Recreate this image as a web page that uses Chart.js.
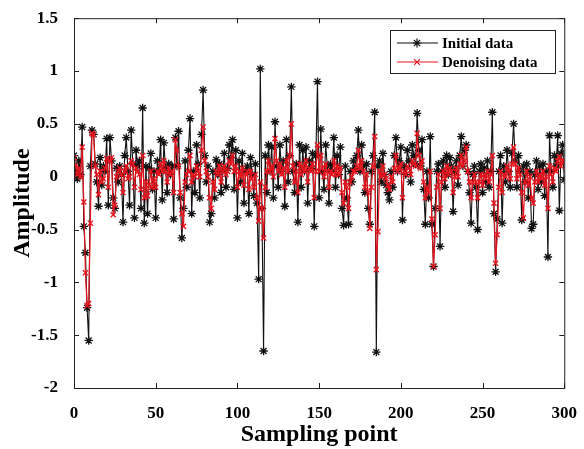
<!DOCTYPE html>
<html>
<head>
<meta charset="utf-8">
<script src="https://cdn.jsdelivr.net/npm/chart.js@4"></script>
<style>
  html, body { margin: 0; padding: 0; background: #fff; }
  #wrap { width: 584px; height: 449px; }
</style>
</head>
<body>
<div id="wrap"><canvas id="sigchart" width="584" height="449"></canvas></div>
<script>
const initialData = [
  0.20, 0.05, -0.02, 0.15, 0.02, 0.47, -0.47, -0.72, -1.24, -1.55,
  0.10, 0.44, 0.40, 0.12, -0.05, -0.28, 0.18, -0.08, 0.10, 0.05,
  0.36, -0.27, 0.37, 0.15, -0.20, -0.30, 0.08, -0.05, 0.10, 0.02,
  -0.43, 0.20, 0.37, 0.05, -0.27, 0.44, 0.12, -0.39, 0.25, 0.10,
  0.15, -0.30, 0.65, -0.44, 0.10, -0.35, 0.08, 0.22, -0.12, 0.05,
  -0.39, 0.15, 0.05, 0.35, -0.22, 0.32, 0.08, -0.15, 0.12, 0.02,
  0.10, -0.40, 0.37, 0.10, 0.43, -0.20, -0.58, -0.30, 0.15, -0.10,
  0.25, 0.55, -0.35, 0.05, -0.15, 0.30, 0.12, -0.20, 0.40, 0.82,
  0.20, -0.05, 0.10, -0.43, -0.35, 0.05, -0.20, 0.16, 0.02, 0.12,
  -0.15, 0.05, 0.22, -0.10, 0.08, 0.30, 0.18, 0.35, -0.12, 0.25,
  -0.39, 0.15, -0.05, 0.22, -0.25, 0.05, 0.10, -0.35, 0.18, 0.02,
  -0.18, 0.12, -0.25, -0.97, 1.02, -0.30, -1.65, 0.20, -0.15, 0.30,
  0.05, 0.28, -0.20, 0.52, 0.10, -0.10, 0.30, 0.05, 0.15, -0.28,
  0.35, -0.05, 0.20, 0.85, 0.05, -0.15, 0.12, -0.43, 0.30, -0.10,
  0.25, 0.05, 0.28, -0.25, 0.15, 0.08, 0.22, -0.47, 0.20, 0.90,
  -0.20, 0.45, 0.05, -0.12, 0.30, 0.10, -0.25, 0.12, 0.05, 0.37,
  -0.10, 0.20, 0.02, 0.28, -0.30, -0.46, 0.10, -0.20, -0.45, 0.05,
  -0.05, 0.15, 0.08, 0.20, 0.44, 0.05, 0.30, 0.10, -0.15, 0.12,
  -0.30, -0.45, 0.05, 0.20, 0.61, -1.66, 0.10, 0.15, -0.05, 0.22,
  0.02, -0.08, -0.15, -0.22, 0.05, -0.10, 0.20, 0.37, 0.05, 0.15,
  0.28, -0.41, 0.10, 0.02, 0.25, 0.15, -0.05, 0.30, 0.20, 0.12,
  0.60, 0.25, 0.10, 0.35, -0.12, -0.45, 0.05, -0.20, 0.38, -0.45,
  -0.85, -0.30, 0.05, 0.12, -0.66, 0.05, 0.15, -0.10, 0.20, 0.02,
  0.18, 0.10, -0.33, 0.05, 0.15, -0.08, 0.20, 0.38, 0.10, 0.25,
  0.30, 0.05, -0.15, -0.44, 0.02, 0.10, -0.10, -0.50, 0.05, 0.12,
  -0.15, 0.08, -0.05, 0.15, -0.10, 0.05, 0.61, -0.35, -0.90, -0.40,
  0.05, 0.20, -0.44, 0.10, -0.05, 0.25, 0.05, -0.10, 0.22, 0.50,
  0.15, -0.10, 0.20, 0.05, -0.41, 0.10, -0.05, 0.12, -0.20, 0.05,
  -0.49, -0.45, 0.02, 0.15, -0.12, 0.10, -0.05, 0.12, -0.18, 0.05,
  -0.76, 0.39, 0.05, -0.10, 0.20, 0.10, 0.39, -0.32, 0.22, 0.30,
  -0.03
];

const denoisedData = [
  0.18, 0.10, 0.02, 0.08, 0.00, 0.28, -0.24, -0.91, -1.22, -1.20,
  -0.44, 0.41, 0.40, 0.10, 0.02, -0.17, 0.05, -0.05, -0.02, 0.08,
  0.17, -0.10, 0.15, 0.18, -0.36, -0.27, 0.00, 0.05, 0.08, 0.02,
  -0.15, 0.05, 0.10, -0.02, 0.00, 0.15, 0.12, -0.10, 0.08, 0.05,
  0.02, -0.12, 0.20, -0.20, -0.05, -0.18, -0.08, 0.05, -0.10, -0.02,
  -0.10, 0.05, 0.02, 0.12, 0.05, 0.15, 0.05, -0.05, 0.08, 0.02,
  0.05, -0.15, 0.35, 0.25, 0.10, -0.15, -0.35, -0.47, -0.05, 0.02,
  0.05, 0.20, -0.05, 0.02, 0.00, 0.10, 0.05, 0.00, 0.25, 0.47,
  0.15, 0.05, 0.00, -0.20, -0.30, -0.05, -0.12, 0.05, 0.02, 0.10,
  -0.05, 0.05, 0.10, 0.02, 0.05, 0.15, 0.12, 0.20, 0.05, 0.10,
  -0.10, 0.05, 0.00, 0.08, -0.08, 0.02, 0.05, -0.12, 0.05, -0.02,
  -0.10, 0.02, -0.20, -0.42, -0.05, -0.30, -0.58, -0.10, 0.05, 0.15,
  0.05, 0.10, 0.00, 0.36, 0.15, 0.05, 0.12, 0.02, 0.08, -0.10,
  0.15, 0.05, 0.20, 0.50, 0.10, -0.05, 0.05, -0.15, 0.12, 0.02,
  0.10, 0.05, 0.15, -0.05, 0.08, 0.05, 0.12, -0.20, 0.05, 0.30,
  0.05, 0.20, 0.08, 0.00, 0.12, 0.05, -0.10, 0.05, 0.02, 0.15,
  0.02, 0.10, 0.02, 0.08, -0.15, -0.25, -0.05, -0.10, -0.30, -0.05,
  0.00, 0.05, 0.05, 0.10, 0.25, 0.08, 0.15, 0.05, -0.10, 0.02,
  -0.15, -0.49, -0.10, 0.10, 0.38, -0.88, -0.52, 0.05, 0.00, 0.10,
  0.02, -0.02, -0.08, -0.12, 0.00, -0.05, 0.08, 0.20, 0.05, 0.08,
  0.12, -0.20, 0.05, 0.02, 0.10, 0.08, 0.02, 0.15, 0.12, 0.10,
  0.41, 0.20, 0.08, 0.15, -0.05, -0.20, -0.10, -0.15, 0.05, -0.40,
  -0.85, -0.55, -0.10, 0.02, -0.30, -0.05, 0.05, -0.02, 0.10, 0.02,
  0.08, 0.05, -0.15, 0.00, 0.08, 0.00, 0.12, 0.20, 0.10, 0.15,
  0.28, 0.05, -0.05, -0.20, -0.05, 0.02, -0.05, -0.20, -0.05, 0.02,
  -0.08, 0.02, -0.02, 0.05, -0.05, 0.02, 0.20, -0.25, -0.82, -0.55,
  -0.10, 0.05, -0.15, 0.02, 0.00, 0.10, 0.05, -0.02, 0.12, 0.28,
  0.12, -0.02, 0.08, 0.02, -0.15, -0.39, -0.05, 0.05, -0.08, 0.00,
  -0.20, -0.25, -0.05, 0.05, -0.05, 0.02, -0.02, 0.05, -0.08, 0.00,
  -0.30, 0.10, 0.02, -0.05, 0.08, 0.05, 0.15, 0.19, 0.10, 0.15,
  0.15
];

const xTicks = [0, 50, 100, 150, 200, 250, 300];
const yTicks = [-2, -1.5, -1, -0.5, 0, 0.5, 1, 1.5];
const seriesNames = ['Initial data', 'Denoising data'];

const serif = 'Liberation Serif, Times New Roman, serif';

function toPoints(arr) {
  return arr.map((v, i) => ({ x: i, y: v }));
}

// matlab style frame: box all round, ticks pointing inward
const framePlugin = {
  id: 'frame',
  afterDatasetsDraw(chart) {
    const { ctx, chartArea: a, scales } = chart;
    ctx.save();
    ctx.strokeStyle = '#222';
    ctx.lineWidth = 1;
    ctx.strokeRect(a.left + 0.5, a.top + 0.5, a.right - a.left, a.bottom - a.top);
    ctx.beginPath();
    xTicks.forEach(t => {
      const px = Math.round(scales.x.getPixelForValue(t)) + 0.5;
      ctx.moveTo(px, a.bottom); ctx.lineTo(px, a.bottom - 5);
      ctx.moveTo(px, a.top); ctx.lineTo(px, a.top + 5);
    });
    yTicks.forEach(t => {
      const py = Math.round(scales.y.getPixelForValue(t)) + 0.5;
      ctx.moveTo(a.left, py); ctx.lineTo(a.left + 5, py);
      ctx.moveTo(a.right, py); ctx.lineTo(a.right - 5, py);
    });
    ctx.stroke();

    // legend box
    const bx = 390, by = 30, bw = 165, bh = 43;
    ctx.fillStyle = '#fff';
    ctx.fillRect(bx, by, bw, bh);
    ctx.strokeStyle = '#222';
    ctx.strokeRect(bx + 0.5, by + 0.5, bw, bh);
    const rows = [
      { name: seriesNames[0], color: '#111', style: 'star', r: 4.5, y: by + 13 },
      { name: seriesNames[1], color: '#e8141e', style: 'crossRot', r: 4, y: by + 32 }
    ];
    rows.forEach(row => {
      ctx.strokeStyle = row.color;
      ctx.lineWidth = 1.2;
      ctx.beginPath();
      ctx.moveTo(bx + 7, row.y); ctx.lineTo(bx + 48, row.y);
      ctx.stroke();
      Chart.helpers.drawPoint(ctx, { pointStyle: row.style, radius: row.r, borderWidth: 1.3 }, bx + 27, row.y);
      ctx.fillStyle = '#000';
      ctx.font = 'bold 15px ' + serif;
      ctx.textBaseline = 'middle';
      ctx.textAlign = 'left';
      ctx.fillText(row.name, bx + 52, row.y + 1);
    });
    ctx.restore();
  }
};

const sigconfig = {
  type: 'line',
  data: {
    datasets: [{
      label: seriesNames[0],
      data: toPoints(initialData),
      borderColor: '#111',
      backgroundColor: '#111',
      borderWidth: 1.1,
      pointStyle: 'star',
      pointRadius: 4.2,
      pointBorderWidth: 1.3,
      pointBorderColor: '#111',
      order: 2
    }, {
      label: seriesNames[1],
      data: toPoints(denoisedData),
      borderColor: '#e8141e',
      backgroundColor: '#e8141e',
      borderWidth: 1.2,
      pointStyle: 'crossRot',
      pointRadius: 3.6,
      pointBorderWidth: 1.4,
      pointBorderColor: '#e8141e',
      order: 1
    }]
  },
  options: {
    responsive: false,
    animation: false,
    layout: { padding: { left: 0, right: 16, top: 18, bottom: 0 } },
    plugins: {
      legend: { display: false },
      tooltip: { enabled: false }
    },
    scales: {
      x: {
        type: 'linear',
        min: 0,
        max: 300,
        grid: { display: false },
        border: { display: false },
        afterBuildTicks: s => { s.ticks = xTicks.map(v => ({ value: v })); },
        afterFit: s => { s.height = 61; },
        ticks: {
          color: '#000',
          padding: 7,
          maxRotation: 0,
          callback: v => String(v),
          font: { family: serif, size: 17, weight: 'bold' }
        },
        title: {
          display: true,
          text: 'Sampling point',
          color: '#000',
          padding: { top: 0, bottom: 0 },
          font: { family: serif, size: 24, weight: 'bold' }
        }
      },
      y: {
        min: -2,
        max: 1.5,
        grid: { display: false },
        border: { display: false },
        afterBuildTicks: s => { s.ticks = yTicks.map(v => ({ value: v })); },
        afterFit: s => { s.width = 74; },
        ticks: {
          color: '#000',
          padding: 8,
          callback: v => String(v),
          font: { family: serif, size: 17, weight: 'bold' }
        },
        title: {
          display: true,
          text: 'Amplitude',
          color: '#000',
          padding: { top: 8, bottom: 0 },
          font: { family: serif, size: 24, weight: 'bold' }
        }
      }
    }
  },
  plugins: [framePlugin]
};

const sigchart = new Chart(document.getElementById('sigchart'), sigconfig);
</script>
</body>
</html>
